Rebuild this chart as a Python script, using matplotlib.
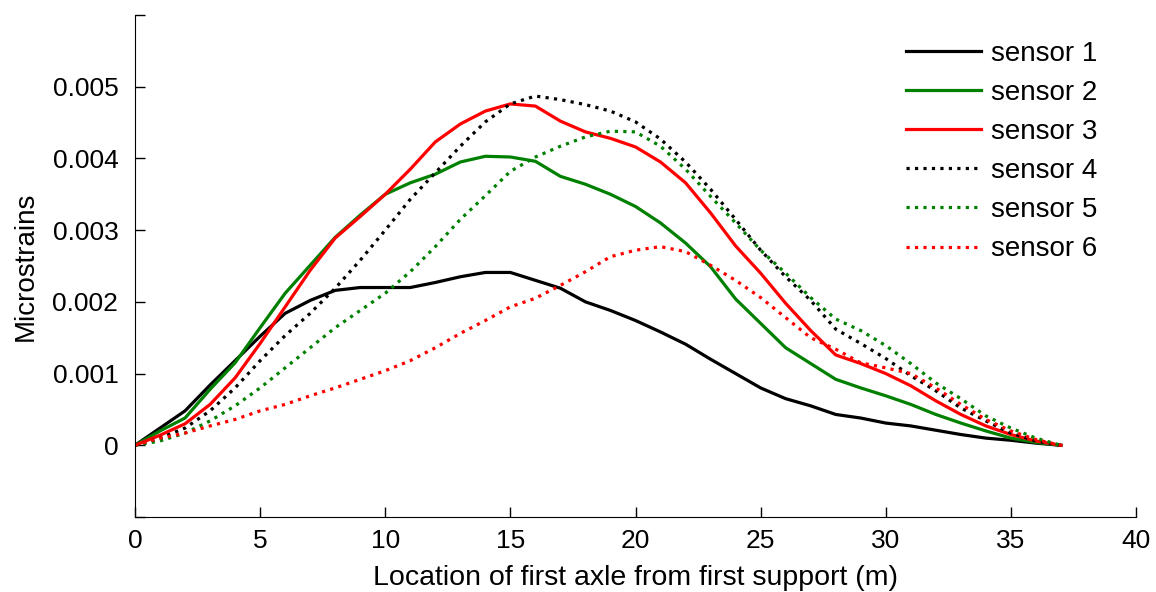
import matplotlib
matplotlib.use('Agg')
import matplotlib.pyplot as plt

plt.rcParams['font.family'] = ['Liberation Sans', 'DejaVu Sans']

# location of first axle (m)
x = list(range(0, 38))

sensor1 = [0, 0.00024, 0.00048, 0.00084, 0.00118, 0.00152, 0.00184, 0.00202, 0.00216, 0.0022,
           0.0022, 0.0022, 0.00227, 0.00235, 0.00241, 0.00241, 0.0023, 0.00219, 0.002, 0.00188,
           0.00174, 0.00158, 0.00141, 0.0012, 0.001, 0.0008, 0.00065, 0.00055, 0.00043, 0.00038,
           0.00031, 0.00027, 0.00021, 0.00015, 0.0001, 0.00007, 0.00003, 0]
sensor2 = [0, 0.0002, 0.00038, 0.00078, 0.00115, 0.00164, 0.00212, 0.00251, 0.0029, 0.00321,
           0.0035, 0.00366, 0.00378, 0.00395, 0.00403, 0.00402, 0.00396, 0.00375, 0.00364, 0.0035,
           0.00333, 0.0031, 0.00282, 0.00249, 0.00204, 0.0017, 0.00136, 0.00114, 0.00092, 0.0008,
           0.00069, 0.00057, 0.00043, 0.00031, 0.0002, 0.0001, 0.00004, 0]
sensor3 = [0, 0.00014, 0.0003, 0.00057, 0.00094, 0.00142, 0.00193, 0.00244, 0.00289, 0.00319,
           0.0035, 0.00385, 0.00423, 0.00448, 0.00466, 0.00476, 0.00473, 0.00452, 0.00437, 0.00428,
           0.00416, 0.00395, 0.00366, 0.00324, 0.00278, 0.0024, 0.00198, 0.0016, 0.00126, 0.00114,
           0.001, 0.00083, 0.00062, 0.00043, 0.00027, 0.00015, 0.00006, 0]
sensor4 = [0, 0.0001, 0.00024, 0.00048, 0.0008, 0.00118, 0.00153, 0.00184, 0.00219, 0.00258,
           0.003, 0.00343, 0.0038, 0.00417, 0.00451, 0.00476, 0.00487, 0.00482, 0.00475, 0.00466,
           0.00451, 0.00427, 0.00395, 0.00357, 0.00315, 0.00272, 0.00235, 0.00202, 0.00162, 0.00142,
           0.00121, 0.00097, 0.00076, 0.00052, 0.00034, 0.00017, 0.00006, 0]
sensor5 = [0, 0.00006, 0.00017, 0.00034, 0.00055, 0.0008, 0.00108, 0.00136, 0.00164, 0.00188,
           0.00212, 0.00242, 0.00277, 0.00315, 0.00348, 0.00382, 0.00402, 0.00417, 0.0043, 0.00438,
           0.00437, 0.00417, 0.00385, 0.00347, 0.0031, 0.00272, 0.0024, 0.00206, 0.00176, 0.0016,
           0.00139, 0.00114, 0.00087, 0.00065, 0.00041, 0.00024, 0.0001, 0]
sensor6 = [0, 0.0001, 0.00017, 0.00027, 0.00036, 0.00048, 0.00057, 0.00069, 0.0008, 0.00092,
           0.00104, 0.00118, 0.00136, 0.00156, 0.00174, 0.00193, 0.00205, 0.00223, 0.00242, 0.00263,
           0.00272, 0.00277, 0.0027, 0.00251, 0.0023, 0.00206, 0.00178, 0.0015, 0.00134, 0.00115,
           0.00108, 0.001, 0.0008, 0.00057, 0.00036, 0.0002, 0.00008, 0]

series = [sensor1, sensor2, sensor3, sensor4, sensor5, sensor6]
names = ["sensor 1", "sensor 2", "sensor 3", "sensor 4", "sensor 5", "sensor 6"]
colors = ["black", "#008000", "red", "black", "#008000", "red"]
styles = ["-", "-", "-", ":", ":", ":"]

xticks = [0, 5, 10, 15, 20, 25, 30, 35, 40]
yticks = [-0.001, 0, 0.001, 0.002, 0.003, 0.004, 0.005, 0.006]
ytick_labels = ["", "0", "0.001", "0.002", "0.003", "0.004", "0.005", ""]

fig = plt.figure(figsize=(11.56, 5.92), dpi=100)
ax = fig.add_axes([135 / 1156, 1 - 517 / 592, 1001 / 1156, 502 / 592])

for ys, name, c, ls in zip(series, names, colors, styles):
    ax.plot(x, ys, color=c, linestyle=ls, linewidth=2.3, label=name)

ax.set_xlim(0, 40)
ax.set_ylim(-0.001, 0.006)
ax.set_xticks(xticks)
ax.set_xticklabels([str(t) for t in xticks])
ax.set_yticks(yticks)
ax.set_yticklabels(ytick_labels)
ax.tick_params(direction='in', length=7, width=1, labelsize=19)
ax.tick_params(axis='y', pad=12)
ax.tick_params(axis='x', pad=9)

ax.spines['top'].set_visible(False)
ax.spines['right'].set_visible(False)

ax.set_xlabel("Location of first axle from first support (m)", fontsize=20.5, labelpad=8)
ax.set_ylabel("Microstrains", fontsize=20, labelpad=10)

ax.legend(loc='upper right', frameon=False, fontsize=20, handlelength=2.7,
          handletextpad=0.35, labelspacing=0.47, borderpad=0.2,
          bbox_to_anchor=(0.981, 0.987))

fig.savefig("out.png", dpi=100)
